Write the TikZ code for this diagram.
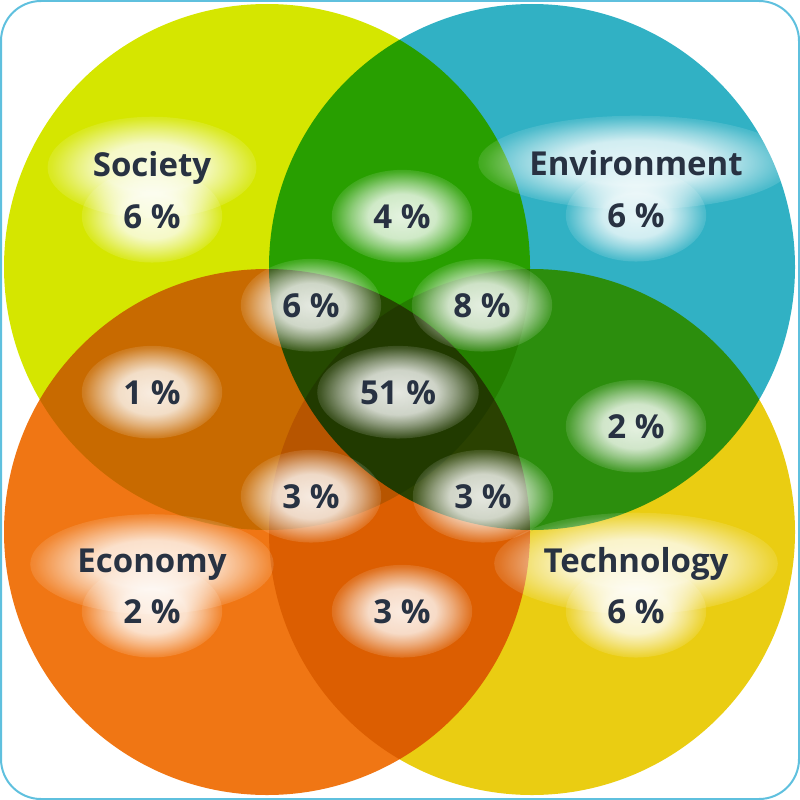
\documentclass[tikz,border=0pt]{standalone}
\usepackage{fontspec}
\setmainfont{Open Sans}
\usetikzlibrary{fadings,calc}
\definecolor{socc}{RGB}{213,230,0}
\definecolor{envc}{RGB}{49,177,196}
\definecolor{ecoc}{RGB}{240,118,20}
\definecolor{tecc}{RGB}{234,205,18}
\definecolor{txtc}{RGB}{40,50,66}
\definecolor{framec}{RGB}{95,192,222}
\pgfdeclareradialshading{glowsh}{\pgfpointorigin}{color(0bp)=(pgftransparent!12); color(12bp)=(pgftransparent!22); color(18bp)=(pgftransparent!52); color(24bp)=(pgftransparent!85); color(28.4bp)=(pgftransparent!100); color(50bp)=(pgftransparent!100)}
\pgfdeclarefading{glowfade}{\pgfuseshading{glowsh}}
\pgfdeclarelayer{circles}
\pgfdeclarelayer{glow}
\pgfsetlayers{circles,glow,main}
\tikzset{
  lab/.style={font=\fontsize{33}{36}\selectfont\bfseries, text=txtc, inner sep=0pt, anchor=base},
  frame/.style={draw=framec, line width=2pt, rounded corners=40pt},
  glowfill/.style={fill=white, path fading=glowfade, fit fading=true},
}
\begin{document}
\begin{tikzpicture}[x=1pt,y=-1pt]
\useasboundingbox (0,0) rectangle (800,800);
\begin{pgfonlayer}{circles}
\begin{scope}[blend group=multiply]
  \fill[socc] (267,267) circle (263);
  \fill[envc] (532,267) circle (263);
  \fill[ecoc] (267,532) circle (263);
  \fill[tecc] (532,532) circle (263);
\end{scope}
\end{pgfonlayer}
\node[lab] (soc) at (152,176) {Society};
\node[lab] (socv) at (152,228) {6 \%};
\node[lab] (env) at (636,175) {Environment};
\node[lab] (envv) at (636,227) {6 \%};
\node[lab] (se) at (402,228) {4 \%};
\node[lab] (sec) at (311,317) {6 \%};
\node[lab] (set) at (482,317) {8 \%};
\node[lab] (sc) at (152,404) {1 \%};
\node[lab] (all) at (398,404) {51 \%};
\node[lab] (et) at (636,438) {2 \%};
\node[lab] (sct) at (311,508) {3 \%};
\node[lab] (ect) at (483,508) {3 \%};
\node[lab] (eco) at (152,572) {Economy};
\node[lab] (ecov) at (152,623) {2 \%};
\node[lab] (tec) at (636,572) {Technology};
\node[lab] (tecv) at (636,623) {6 \%};
\node[lab] (ctv) at (402,623) {3 \%};
\begin{pgfonlayer}{glow}
\foreach \nm in {soc,socv,env,envv,se,sec,set,sc,all,et,sct,ect,eco,ecov,tec,tecv,ctv}{
  \path[glowfill] let \p1=($(\nm.north east)-(\nm.south west)$) in
    (\nm.center) ellipse [x radius={0.56*\x1+38pt}, y radius={0.5*abs(\y1)+34pt}];
}
\end{pgfonlayer}
\draw[frame] (1,1) rectangle (799,799);
\end{tikzpicture}
\end{document}
